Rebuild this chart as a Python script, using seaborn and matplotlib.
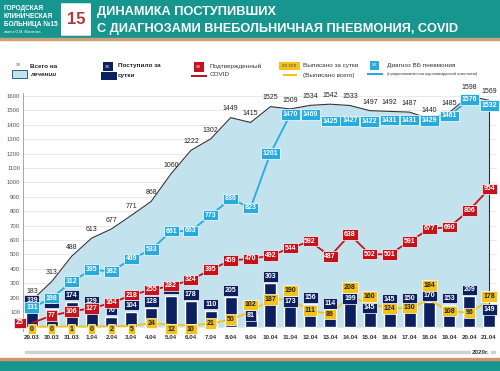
import numpy as np
import pandas as pd
import matplotlib.pyplot as plt
import seaborn as sns
from matplotlib.patches import Rectangle, FancyBboxPatch

# ---------------------------------------------------------------------
# данные
# ---------------------------------------------------------------------
dates = ["29.03", "30.03", "31.03", "1.04", "2.04", "3.04", "4.04", "5.04",
         "6.04", "7.04", "8.04", "9.04", "10.04", "11.04", "12.04", "13.04",
         "14.04", "15.04", "16.04", "17.04", "18.04", "19.04", "20.04", "21.04"]
total = [183, 313, 488, 613, 677, 771, 868, 1060, 1222, 1302, 1449, 1415,
         1525, 1509, 1534, 1542, 1533, 1497, 1492, 1487, 1440, 1485, 1598, 1569]
admitted = [139, 122, 174, 129, 70, 104, 128, 215, 178, 110, 205, 81,
            303, 173, 156, 114, 199, 145, 145, 150, 170, 153, 209, 149]
covid = [25, 77, 106, 127, 164, 218, 255, 282, 324, 395, 459, 470,
         492, 544, 592, 487, 638, 502, 501, 591, 677, 690, 806, 954]
discharged = [0, 0, 1, 0, 2, 5, 24, 12, 10, 21, 50, 102,
              187, 190, 111, 86, 208, 160, 124, 130, 184, 108, 96, 178]
pneumonia = [131, 198, 312, 395, 382, 469, 533, 661, 663, 773, 886, 823,
             1201, 1470, 1469, 1425, 1427, 1422, 1431, 1431, 1429, 1461, 1576, 1532]

# цвета
TEAL = "#17958f"
NAVY = "#0c1f5e"
RED = "#c3141d"
YELLOW = "#f4c21c"
BLUE = "#27abdf"
AREA = "#c2e2ed"
DARK = "#333333"

FONT = ["Liberation Sans Narrow", "Liberation Sans", "DejaVu Sans"]

sns.set_theme(style="white")
plt.rcParams["font.family"] = FONT

df = pd.DataFrame({"date": dates, "x": np.arange(len(dates)), "total": total,
                   "admitted": admitted, "covid": covid,
                   "discharged": discharged, "pneumonia": pneumonia})

fig = plt.figure(figsize=(5.0, 3.71), dpi=100)
ax = fig.add_axes([0.046, 0.108, 0.948, 0.6415])

# область "Всего на лечении"
ax.fill_between(df["x"], 0, df["total"], color=AREA, zorder=1, lw=0)
sns.lineplot(data=df, x="x", y="total", ax=ax, color=DARK, lw=0.8, zorder=2)
ax.plot([df["x"].iloc[-1]] * 2, [0, total[-1]], color=DARK, lw=0.8, zorder=2)

# столбцы "Поступило за сутки"
sns.barplot(data=df, x="x", y="admitted", ax=ax, color=NAVY, width=0.6,
            native_scale=True, zorder=3, saturation=1)

sns.lineplot(data=df, x="x", y="pneumonia", ax=ax, color=BLUE, lw=1.3, zorder=4)
sns.lineplot(data=df, x="x", y="covid", ax=ax, color=RED, lw=1.3, zorder=4)
sns.lineplot(data=df, x="x", y="discharged", ax=ax, color=YELLOW, lw=1.3, zorder=4)

ax.set_xlim(-0.45, 23.4)
ax.set_ylim(-30, 1620)
ax.set_yticks(range(0, 1601, 100))
ax.set_xticks(df["x"])
ax.set_xticklabels(dates)
ax.tick_params(axis="y", labelsize=4.3, colors="#555555", pad=2, length=0)
ax.tick_params(axis="x", labelsize=4.5, colors="#333333", pad=3, length=0)
for lbl in ax.get_xticklabels():
    lbl.set_fontweight("bold")
ax.set_xlabel("")
ax.set_ylabel("")
ax.grid(axis="y", color="#e6e6e6", lw=0.6)
ax.set_axisbelow(True)
for s in ["top", "right", "bottom"]:
    ax.spines[s].set_visible(False)
ax.spines["left"].set_color("#999999")
ax.spines["left"].set_linewidth(0.6)


def box(x, y, txt, fc, tc="white", z=6):
    ax.text(x, y, txt, ha="center", va="center", fontsize=5.0,
            fontweight="bold", color=tc, zorder=z, clip_on=False,
            bbox=dict(boxstyle="square,pad=0.25", fc=fc, ec="white", lw=0.5))


# подписи
for i, v in enumerate(total):
    ax.text(i, v + 60, str(v), ha="center", va="center", fontsize=5,
            color="#222222", zorder=6, clip_on=False)

navy_dy = {11: -5, 13: 0, 16: -5, 17: -15, 23: -30}
for i, v in enumerate(admitted):
    box(i, v + navy_dy.get(i, 45), str(v), NAVY)

for i, v in enumerate(pneumonia):
    box(i, v, str(v), BLUE)

red_dx = {0: -0.6}
for i, v in enumerate(covid):
    box(i + red_dx.get(i, 0), v, str(v), RED, z=7)

yellow_y = {11: 150, 13: 250, 16: 270, 17: 208, 20: 284, 23: 208}
for i, v in enumerate(discharged):
    y = yellow_y.get(i, v if v > 15 else -18)
    box(i, y, str(v), YELLOW, tc="#222222", z=8)

# ---------------------------------------------------------------------
# шапка
# ---------------------------------------------------------------------
H = 371.0
W = 500.0


def fy(py):
    return 1 - py / H


fig.patches.append(Rectangle((0, fy(38)), 1, 38 / H, transform=fig.transFigure,
                             color=TEAL, zorder=0))
fig.patches.append(Rectangle((0, fy(40)), 1, 2 / H, transform=fig.transFigure,
                             color="#c9a27a", zorder=0))
fig.patches.append(Rectangle((0, 0), 1, 11 / H, transform=fig.transFigure,
                             color=TEAL, zorder=0))
fig.patches.append(Rectangle((0, 11 / H), 1, 2 / H, transform=fig.transFigure,
                             color="#d8916a", zorder=0))
fig.patches.append(Rectangle((25 / W, fy(353)), 470 / W, 2 / H,
                             transform=fig.transFigure, color="#d0d0d0", zorder=0))

for txt, py in [("ГОРОДСКАЯ", 8), ("КЛИНИЧЕСКАЯ", 16), ("БОЛЬНИЦА №15", 24)]:
    fig.text(4 / W, fy(py), txt, color="white", fontsize=4.7, fontweight="bold",
             va="center", ha="left")
fig.text(4 / W, fy(32), "имени О.М. Филатова", color="white", fontsize=2.6,
         va="center", ha="left")

fig.patches.append(FancyBboxPatch((62 / W, fy(35)), 28 / W, 31 / H,
                                  boxstyle="round,pad=0.002",
                                  transform=fig.transFigure, fc="white",
                                  ec="none", zorder=1))
fig.text(76 / W, fy(19), "15", color="#b5353a", fontsize=12, fontweight="bold",
         ha="center", va="center", zorder=2)

fig.text(97 / W, fy(12), "ДИНАМИКА ПОСТУПИВШИХ", color="white", fontsize=9.2,
         fontweight="bold", ha="left", va="center")
fig.text(97 / W, fy(29), "С ДИАГНОЗАМИ ВНЕБОЛЬНИЧНАЯ ПНЕВМОНИЯ, COVID",
         color="white", fontsize=9.2, fontweight="bold", ha="left", va="center")

# ---------------------------------------------------------------------
# легенда
# ---------------------------------------------------------------------


def frect(px, py, w, h, fc, ec="none", lw=0):
    fig.patches.append(Rectangle((px / W, fy(py + h)), w / W, h / H,
                                 transform=fig.transFigure, fc=fc, ec=ec, lw=lw))


# Всего на лечении
fig.text(19 / W, fy(65), "XX", fontsize=2.8, color="#555555", ha="center", va="center")
frect(12, 70, 15, 8, AREA, ec="#2d5f8a", lw=0.7)
fig.text(30 / W, fy(66), "Всего на", fontsize=4.6, fontweight="bold",
         color="#222222", va="center")
fig.text(30 / W, fy(75), "лечении", fontsize=4.6, fontweight="bold",
         style="italic", color="#222222", va="center")

# Поступило за сутки
frect(103, 62, 10, 9, NAVY)
fig.text(108 / W, fy(66.5), "XX", fontsize=2.8, color="white", ha="center", va="center")
frect(101, 72, 16, 8, NAVY)
fig.text(118 / W, fy(66), "Поступило за", fontsize=4.6, fontweight="bold",
         color="#222222", va="center")
fig.text(118 / W, fy(75), "сутки", fontsize=4.6, fontweight="bold",
         color="#222222", va="center")

# Подтвержденный COVID
frect(194, 62, 10, 10, RED)
fig.text(199 / W, fy(67), "XX", fontsize=2.8, color="white", ha="center", va="center")
frect(191, 75, 16, 1.5, RED)
fig.text(210 / W, fy(66), "Подтвержденный", fontsize=4.6, color="#333333", va="center")
fig.text(210 / W, fy(75), "COVID", fontsize=4.6, color="#333333", va="center")

# Выписано за сутки
frect(279, 62, 21, 8, YELLOW)
fig.text(289.5 / W, fy(66), "XX XXX", fontsize=2.8, color="#333333",
         ha="center", va="center")
frect(283, 74, 14, 1.5, YELLOW)
fig.text(303 / W, fy(66), "Выписано за сутки", fontsize=4.6, color="#333333", va="center")
fig.text(303 / W, fy(75), "(Выписано всего)", fontsize=4.6, color="#333333", va="center")

# Диагноз ВБ пневмония
frect(370, 61, 9, 9, BLUE)
fig.text(374.5 / W, fy(65.5), "XX", fontsize=2.8, color="white", ha="center", va="center")
frect(367, 73, 16, 1.5, BLUE)
fig.text(387 / W, fy(66), "Диагноз ВБ пневмония", fontsize=4.6,
         color="#333333", va="center")
fig.text(387 / W, fy(74), "(предположительно коронавирусной этиологии)",
         fontsize=3.0, color="#333333", va="center")

# год
fig.text(490 / W, fy(352), "2020г.", fontsize=4.5, fontweight="bold",
         color="#333333", ha="right", va="center",
         bbox=dict(boxstyle="square,pad=0.2", fc="white", ec="none"))

fig.savefig("out.png", dpi=100)
